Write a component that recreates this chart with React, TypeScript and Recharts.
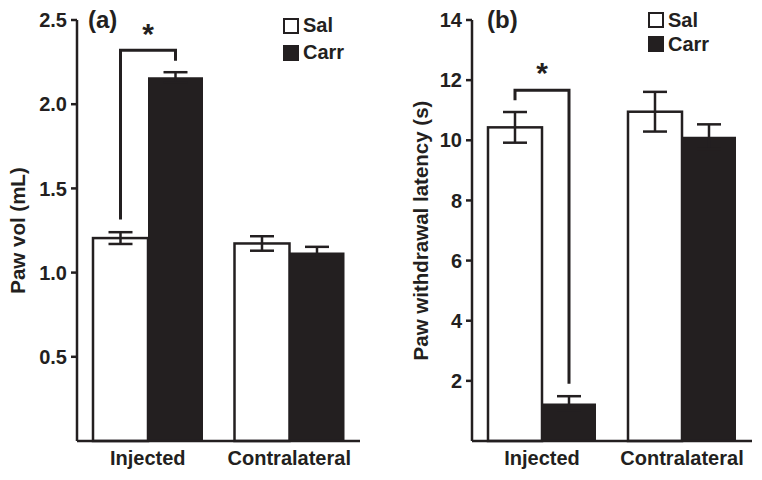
import React from "react";
import { BarChart, Bar, XAxis, YAxis, ErrorBar, Legend, Customized } from "recharts";

const FONT = '"Liberation Sans", Arial, sans-serif';
const INK = "#231f20";

const categories = ["Injected", "Contralateral"];
const seriesNames = ["Sal", "Carr"];
const seriesFills = ["#ffffff", INK];

// (a) paw volume
const salVol = [1.205, 1.173];
const salVolErr = [0.035, 0.043];
const carrVol = [2.16, 1.12];
const carrVolErr = [0.03, 0.033];
const volTicks = [0.5, 1.0, 1.5, 2.0, 2.5];
// bracket: left leg bottom, top, right leg bottom, star baseline
const volBracket = [1.315, 2.32, 2.258, 2.36];

// (b) withdrawal latency
const salLat = [10.43, 10.95];
const salLatErr = [0.51, 0.66];
const carrLat = [1.25, 10.12];
const carrLatErr = [0.24, 0.41];
const latTicks = [2, 4, 6, 8, 10, 12, 14];
const latBracket = [11.33, 11.66, 1.9, 11.9];

const buildRows = (sal: number[], salErr: number[], carr: number[], carrErr: number[]) =>
  categories.map((c, i) => ({ category: c, sal: sal[i], salErr: salErr[i], carr: carr[i], carrErr: carrErr[i] }));

const makeSalShape = (bracket: number[]) => (props: any) => {
  const { x, y, width, height, index } = props;
  const v = props.payload ? props.payload.sal : props.value;
  const base = y + height;
  const py = (val: number) => base - (val * height) / v;
  const xl = x + width / 2;
  const xr = x + width * 1.5;
  return (
    <g>
      <rect x={x} y={y} width={width} height={height} fill="#fff" stroke={INK} strokeWidth={2.5} />
      {index === 0 && (
        <g>
          <path
            d={`M${xl},${py(bracket[0])}V${py(bracket[1])}H${xr}V${py(bracket[2])}`}
            fill="none"
            stroke={INK}
            strokeWidth={3}
          />
          <text x={x + width} y={py(bracket[3])} textAnchor="middle" fontSize={30} fontWeight="bold" fontFamily={FONT} fill={INK}>
            *
          </text>
        </g>
      )}
    </g>
  );
};

const renderLegend = (rowH: number) => () => (
  <div style={{ fontFamily: FONT, fontWeight: "bold", fontSize: 20, color: INK }}>
    {seriesNames.map((n, i) => (
      <div key={n} style={{ display: "flex", alignItems: "center", height: rowH }}>
        <span
          style={{
            display: "inline-block",
            width: 16,
            height: 16,
            boxSizing: "border-box",
            border: `2px solid ${INK}`,
            background: seriesFills[i],
            marginRight: 4,
          }}
        />
        {n}
      </div>
    ))}
  </div>
);

const yTitle = (text: string, cx: number) => (props: any) => {
  const vb = props.viewBox;
  const cy = vb.y + vb.height / 2;
  return (
    <text
      x={cx}
      y={cy}
      transform={`rotate(-90 ${cx} ${cy})`}
      textAnchor="middle"
      dominantBaseline="central"
      fontSize={20.5}
      fontWeight="bold"
      fontFamily={FONT}
      fill={INK}
    >
      {text}
    </text>
  );
};

const tickStyle = { fontSize: 20, fontWeight: "bold", fontFamily: FONT, fill: INK };
const catStyle = { fontSize: 20, fontWeight: "bold", fontFamily: FONT, fill: INK };

const Panel = (props: any) => {
  const { rows, ticks, domain, fmt, bracket, yWidth, width, title, titleX, tag, tagX, legendLeft, legendTop, rowH } = props;
  return (
    <BarChart
      width={width}
      height={480}
      data={rows}
      margin={{ top: 20, right: width - props.plotRight, left: 0, bottom: 9 }}
      barCategoryGap={16}
      barGap={0}
    >
      <XAxis
        dataKey="category"
        height={30}
        tickLine={false}
        axisLine={{ stroke: INK, strokeWidth: 2.5 }}
        tick={catStyle}
        tickMargin={4}
      />
      <YAxis
        width={yWidth}
        domain={domain}
        ticks={ticks}
        interval={0}
        tickFormatter={fmt}
        axisLine={{ stroke: INK, strokeWidth: 2.5 }}
        tickLine={{ stroke: INK, strokeWidth: 2.5 }}
        tickSize={6}
        tickMargin={4}
        tick={tickStyle}
        label={{ content: yTitle(title, titleX) }}
      />
      <Legend
        layout="vertical"
        align="center"
        verticalAlign="middle"
        content={renderLegend(rowH)}
        wrapperStyle={{ left: legendLeft, top: legendTop, width: 80 }}
      />
      <Bar dataKey="sal" name="Sal" fill="#fff" shape={makeSalShape(bracket)} isAnimationActive={false}>
        <ErrorBar dataKey="salErr" width={12} stroke={INK} strokeWidth={2.5} direction="y" isAnimationActive={false} />
      </Bar>
      <Bar dataKey="carr" name="Carr" fill={INK} isAnimationActive={false}>
        <ErrorBar dataKey="carrErr" width={12} stroke={INK} strokeWidth={2.5} direction="y" isAnimationActive={false} />
      </Bar>
      <Customized
        component={() => (
          <text x={tagX} y={28} fontSize={24} fontWeight="bold" fontFamily={FONT} fill={INK}>
            {tag}
          </text>
        )}
      />
    </BarChart>
  );
};

export default function App() {
  return (
    <div style={{ position: "absolute", left: 0, top: 0, width: 762, height: 480, background: "#fff" }}>
      <div style={{ position: "absolute", left: 0, top: 0 }}>
        <Panel
          rows={buildRows(salVol, salVolErr, carrVol, carrVolErr)}
          ticks={volTicks}
          domain={[0, 2.5]}
          fmt={(v: number) => v.toFixed(1)}
          bracket={volBracket}
          yWidth={77}
          width={380}
          plotRight={360}
          title="Paw vol (mL)"
          titleX={17}
          tag="(a)"
          tagX={88}
          legendLeft={283}
          legendTop={12}
          rowH={27}
        />
      </div>
      <div style={{ position: "absolute", left: 380, top: 0 }}>
        <Panel
          rows={buildRows(salLat, salLatErr, carrLat, carrLatErr)}
          ticks={latTicks}
          domain={[0, 14]}
          fmt={(v: number) => String(v)}
          bracket={latBracket}
          yWidth={92}
          width={382}
          plotRight={372}
          title="Paw withdrawal latency (s)"
          titleX={40}
          tag="(b)"
          tagX={107}
          legendLeft={268}
          legendTop={8}
          rowH={24}
        />
      </div>
    </div>
  );
}
